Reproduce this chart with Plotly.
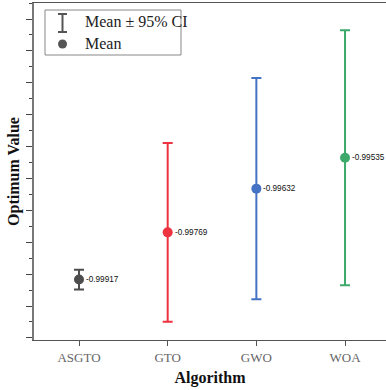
import plotly.graph_objects as go

algorithms = ["ASGTO", "GTO", "GWO", "WOA"]
means = [-0.99917, -0.99769, -0.99632, -0.99535]
ci_half = [0.00031, 0.00280, 0.00347, 0.00400]
mean_labels = ["-0.99917", "-0.99769", "-0.99632", "-0.99535"]
colors = ["#4d4d4d", "#ee3340", "#4472c4", "#3daa6b"]

fig = go.Figure()
for alg, m, h, c, lab in zip(algorithms, means, ci_half, colors, mean_labels):
    fig.add_trace(go.Scatter(
        x=[alg], y=[m], mode="markers",
        marker=dict(size=10, color=c, line=dict(width=0)),
        error_y=dict(type="data", array=[h], symmetric=True,
                     color=c, thickness=2, width=5),
        showlegend=False, hoverinfo="skip",
    ))
    fig.add_annotation(x=alg, y=m, text=lab,
                       showarrow=False, xanchor="left", yanchor="middle",
                       xshift=5, font=dict(family="Liberation Sans", size=8.2, color="#111"))

# manual legend (paper coordinates)
L, R, T, B = 34.0, 386.0, 3.0, 340.0
W, H = R - L, B - T
def px(x):
    return (x - L) / W
def py(y):
    return 1 - (y - T) / H

shapes = [
    dict(type="rect", xref="paper", yref="paper", x0=px(45), x1=px(181), y0=py(10), y1=py(55),
         line=dict(color="#888", width=1), fillcolor="white"),
    dict(type="line", xref="paper", yref="paper", x0=px(62.5), x1=px(62.5), y0=py(14), y1=py(32),
         line=dict(color="#555", width=2)),
    dict(type="line", xref="paper", yref="paper", x0=px(58), x1=px(67), y0=py(14), y1=py(14),
         line=dict(color="#555", width=2)),
    dict(type="line", xref="paper", yref="paper", x0=px(58), x1=px(67), y0=py(32), y1=py(32),
         line=dict(color="#555", width=2)),
    dict(type="circle", xref="paper", yref="paper", x0=px(58), x1=px(67), y0=py(39.5), y1=py(48.5),
         line=dict(color="#555", width=0), fillcolor="#555"),
]
for s in shapes:
    fig.add_shape(**s)
fig.add_annotation(xref="paper", yref="paper", x=px(83), y=py(22), text="Mean ± 95% CI",
                   showarrow=False, xanchor="left", yanchor="middle",
                   font=dict(family="Liberation Serif", size=16, color="#222"))
fig.add_annotation(xref="paper", yref="paper", x=px(83), y=py(44), text="Mean",
                   showarrow=False, xanchor="left", yanchor="middle",
                   font=dict(family="Liberation Serif", size=16, color="#222"))

fig.update_layout(
    width=386, height=390,
    margin=dict(l=34, r=0, t=3, b=50),
    paper_bgcolor="white", plot_bgcolor="white",
    xaxis=dict(
        type="category", range=[-0.5075, 3.462],
        showline=True, linecolor="#555", linewidth=1.2, mirror=True,
        ticks="outside", ticklen=5, tickcolor="#555",
        showgrid=False, zeroline=False,
        tickfont=dict(family="Liberation Serif", size=13, color="#666"),
        title=dict(text="<b>Algorithm</b>", standoff=8,
                   font=dict(family="Liberation Serif", size=16, color="#111")),
    ),
    yaxis=dict(
        range=[-1.001066, -0.990498],
        showline=True, linecolor="#777", linewidth=1.5,
        ticks="outside", ticklen=6, tickcolor="#444", tick0=-1, dtick=0.001,
        minor=dict(ticks="outside", ticklen=3, dtick=0.0005, tickcolor="#444"),
        showticklabels=False, showgrid=False, zeroline=False,
        title=dict(text="<b>Optimum Value</b>", standoff=3,
                   font=dict(family="Liberation Serif", size=16, color="#111")),
    ),
)

fig.write_html("out.html")
